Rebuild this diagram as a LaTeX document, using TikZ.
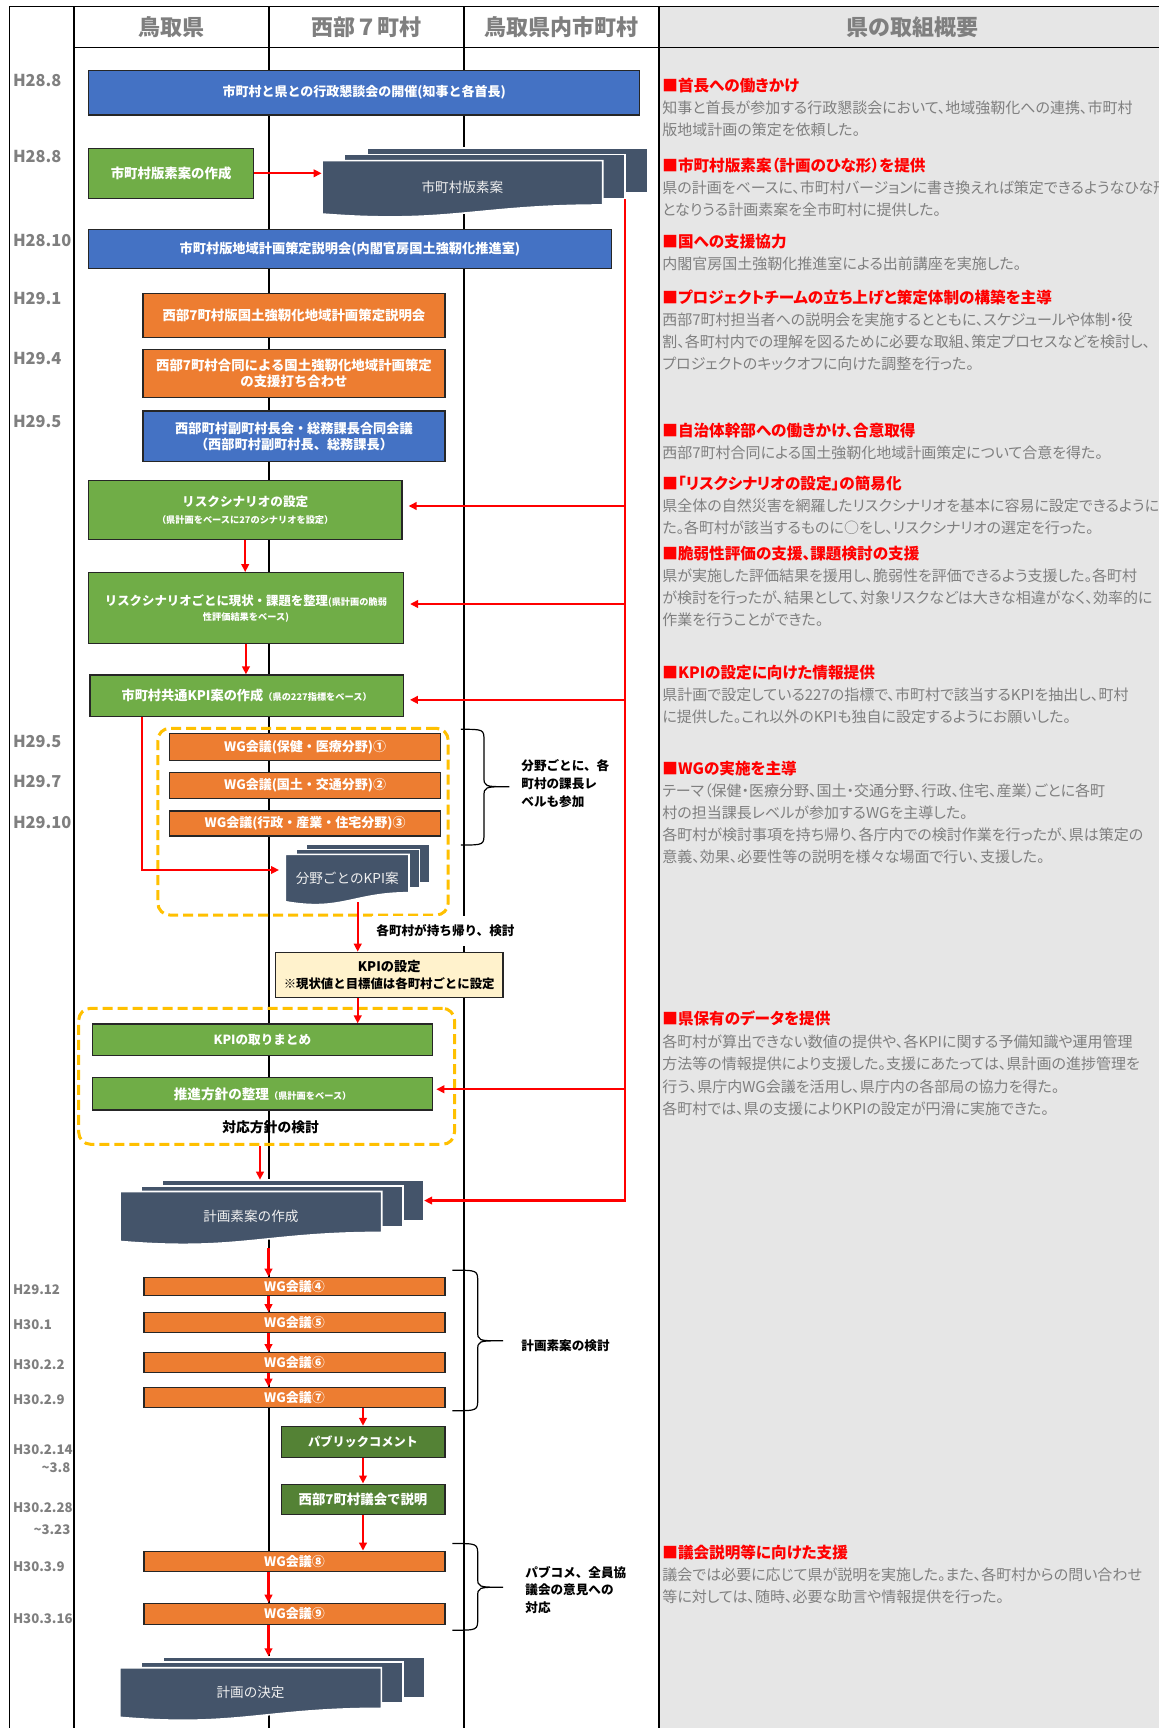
\documentclass[tikz,border=0pt]{standalone}
\usepackage{fontspec}
\setmainfont{Noto Sans CJK JP}
\newfontfamily\pfont{Noto Sans CJK JP}[RawFeature=+palt]
\usetikzlibrary{arrows.meta,fit,calc}
\definecolor{cBlue}{HTML}{4472C4}
\definecolor{cOrange}{HTML}{ED7D31}
\definecolor{cGreen}{HTML}{70AD47}
\definecolor{cDGreen}{HTML}{548235}
\definecolor{cDoc}{HTML}{44546A}
\definecolor{cYellow}{HTML}{FFF2CC}
\definecolor{cGold}{HTML}{FFC000}
\definecolor{cPanel}{HTML}{E6E6E6}
\definecolor{cGrayText}{HTML}{7F7F7F}
\newcommand\smtxt[1]{{\fontsize{4.6}{6}\selectfont #1}}
\newcommand\hd[1]{{\color{red}\bfseries\fontsize{7.8}{11}\selectfont #1}}
% box: style, name, fit points, text
\newcommand\bx[4]{%
  \node[#1, fit={#3}] (#2) {};
  \node[#1, draw=none, fill=none, inner sep=0pt] (#2t) at (#2.center) {#4};
}
\newcommand\docstack[8]{%
  \pgfmathsetmacro\dsw{#4-#2}%
  \pgfmathsetmacro\dsyl{#5+9}%
  \path[docsheet] (#2+2*#6,#3-2*#7) rectangle (#4+2*#6,#5-2*#7);
  \node[inner sep=0pt, fit={(#2+2*#6,#3-2*#7) (#4+2*#6,#5-2*#7)}] (#1b) {};
  \path[docsheet] (#2+#6,#3-#7) rectangle (#4+#6,#5-#7);
  \node[inner sep=0pt, fit={(#2+#6,#3-#7) (#4+#6,#5-#7)}] (#1m) {};
  \path[docsheet] (#2,#3) -- (#4,#3) -- (#4,#5) .. controls (#2+0.55*\dsw,#5) and (#2+0.45*\dsw,\dsyl+10) .. (#2,\dsyl) -- cycle;
  \node[inner sep=0pt, fit={(#2,#3) (#4,\dsyl)}] (#1) {};
  \node[doctext] (#1t) at (#1.center) {#8};
}
\newcommand\mybrace[6]{%
  \draw[line width=0.6pt] (#1,#4) .. controls (#2,#4) .. (#2,#4+12) -- (#2,#5-10) .. controls (#2,#5) .. (#3,#5)
    .. controls (#2,#5) .. (#2,#5+10) -- (#2,#6-12) .. controls (#2,#6) .. (#1,#6);
}
\begin{document}
\begin{tikzpicture}[x=0.5pt,y=-0.5pt,
  box/.style={draw=black!85, line width=0.6pt, inner sep=0pt, align=center, text=white,
    font=\bfseries\fontsize{6.7}{8.3}\selectfont},
  bluebox/.style={box, fill=cBlue},
  orbox/.style={box, fill=cOrange},
  grbox/.style={box, fill=cGreen},
  dgbox/.style={box, fill=cDGreen},
  ybox/.style={box, fill=cYellow, text=black},
  docsheet/.style={fill=cDoc, draw=white, line width=0.8pt},
  doctext/.style={inner sep=0pt, text=white!94!black, font=\fontsize{6.8}{8}\selectfont},
  rarrow/.style={draw=red, line width=1.1pt, -{Triangle[length=4pt,width=3.8pt]}},
  colline/.style={line width=1pt, black},
  dashbox/.style={draw=cGold, line width=1.5pt, dash pattern=on 5pt off 2.5pt, rounded corners=6pt, inner sep=0pt},
  hdr/.style={inner sep=0pt, text=cGrayText, font=\bfseries\fontsize{11}{13}\selectfont},
  datel/.style={anchor=west, inner sep=0pt, text=cGrayText, font=\bfseries\fontsize{8.2}{10}\selectfont},
  dates/.style={anchor=west, inner sep=0pt, text=cGrayText, font=\bfseries\fontsize{6.6}{9}\selectfont},
  lab/.style={anchor=west, inner sep=0pt, align=left, font=\bfseries\fontsize{6.3}{8.85}\selectfont},
  para/.style={anchor=north west, inner sep=0pt, align=left, text=cGrayText, font=\pfont\fontsize{7.5}{11}\selectfont}
]
\useasboundingbox (0,0) rectangle (1159,1728);
\clip (0,0) rectangle (1159,1728);
\fill[white] (0,0) rectangle (1159,1728);
\fill[cPanel] (659,6.7) rectangle (1159,1728);

% grid
\draw[line width=0.8pt] (9.3,1728) -- (9.3,6.7) -- (1159,6.7);
\draw[line width=0.8pt] (73.7,47.7) -- (1159,47.7);
\coordinate (c1) at (73.7,6.7);
\coordinate (c2) at (268.5,6.7);
\coordinate (c3) at (463.8,6.7);
\draw[colline] (c1) -- (73.7,1728);
\draw[colline] (c2) -- (268.5,1728);
\draw[colline] (c3) -- (463.8,1728);
\draw[line width=1.3pt] (659,6.7) -- (659,1728);

% headers
\node[hdr] (h1) at (171.1,26.7) {鳥取県};
\node[hdr] (h2) at (366.2,26.7) {西部７町村};
\node[hdr] (h3) at (561.4,26.7) {鳥取県内市町村};
\node[hdr] (h4) at (912,26.7) {県の取組概要};

% dates
\node[datel] (d1) at (12.6,81) {H28.8};
\node[datel] (d2) at (12.6,156.7) {H28.8};
\node[datel] (d3) at (12.6,240.7) {H28.10};
\node[datel] (d4) at (12.6,298.3) {H29.1};
\node[datel] (d5) at (12.6,359) {H29.4};
\node[datel] (d6) at (12.6,421.7) {H29.5};
\node[datel] (d7) at (12.6,741) {H29.5};
\node[datel] (d8) at (12.6,781.7) {H29.7};
\node[datel] (d9) at (12.6,822.7) {H29.10};
\node[dates] (d10) at (12.6,1289.4) {H29.12};
\node[dates] (d11) at (12.6,1324.4) {H30.1};
\node[dates] (d12) at (12.6,1364.2) {H30.2.2};
\node[dates] (d13) at (12.6,1399.5) {H30.2.9};
\node[dates] (d14) at (12.6,1449.5) {H30.2.14};
\node[dates, anchor=east] (d15) at (70.7,1467.7) {\textasciitilde3.8};
\node[dates] (d16) at (12.6,1507.5) {H30.2.28};
\node[dates, anchor=east] (d17) at (70.7,1529.5) {\textasciitilde3.23};
\node[dates] (d18) at (12.6,1566.6) {H30.3.9};
\node[dates] (d19) at (12.6,1618.7) {H30.3.16};

% dashed groups
\node[dashbox, fit={(157.8,728.3) (448.2,915)}] (dz1) {};
\node[dashbox, fit={(78.7,1008.3) (454.5,1144.3)}] (dz2) {};

% boxes
\bx{bluebox, font=\bfseries\fontsize{6.5}{8}\selectfont}{b1}{(88.8,70.3) (639.7,115)}{市町村と県との行政懇談会の開催(知事と各首長)}
\bx{grbox}{b2}{(88.4,148.3) (253.8,198.3)}{市町村版素案の作成}
\bx{bluebox, font=\bfseries\fontsize{6.6}{8}\selectfont}{b3}{(88.4,229.3) (611.5,268.7)}{市町村版地域計画策定説明会(内閣官房国土強靭化推進室)}
\bx{orbox}{b4}{(143,293.3) (445,337.7)}{西部7町村版国土強靭化地域計画策定説明会}
\bx{orbox, font=\bfseries\fontsize{6.7}{8}\selectfont}{b5}{(143,349.3) (445,397.7)}{西部7町村合同による国土強靭化地域計画策定\\の支援打ち合わせ}
\bx{bluebox, font=\bfseries\fontsize{6.6}{8.3}\selectfont}{b6}{(143,411) (445,461.7)}{西部町村副町村長会・総務課長合同会議\\（西部町村副町村長、総務課長）}
\bx{grbox, font=\bfseries\fontsize{6.3}{8.3}\selectfont}{b7}{(88.4,480.7) (402,539.3)}{リスクシナリオの設定\\\smtxt{（県計画をベースに27のシナリオを設定）}}
\bx{grbox, font=\bfseries\fontsize{6.2}{7.5}\selectfont}{b8}{(88.4,572.7) (403.5,643.3)}{リスクシナリオごとに現状・課題を整理\smtxt{(県計画の脆弱}\\\smtxt{性評価結果をベース)}}
\bx{grbox, font=\bfseries\fontsize{6.6}{8}\selectfont}{b9}{(90,675) (403.3,716.7)}{市町村共通KPI案の作成\smtxt{（県の227指標をベース）}}
\bx{orbox, font=\bfseries\fontsize{6.5}{8}\selectfont}{w1}{(169.6,733.3) (440.7,760.7)}{WG会議(保健・医療分野)①}
\bx{orbox, font=\bfseries\fontsize{6.5}{8}\selectfont}{w2}{(169.6,772.7) (440.7,798.3)}{WG会議(国土・交通分野)②}
\bx{orbox, font=\bfseries\fontsize{6.5}{8}\selectfont}{w3}{(169.6,811) (440.7,836)}{WG会議(行政・産業・住宅分野)③}
\bx{ybox, font=\bfseries\fontsize{6.2}{8.6}\selectfont}{kpi}{(275.3,952.3) (503,997.7)}{{\fontsize{6.6}{8}\selectfont KPIの設定}\\※現状値と目標値は各町村ごとに設定}
\bx{grbox, font=\bfseries\fontsize{6.3}{8}\selectfont}{b10}{(92.6,1024) (432.2,1055.7)}{KPIの取りまとめ}
\bx{grbox, font=\bfseries\fontsize{6.8}{8}\selectfont}{b11}{(92.6,1077.7) (432.7,1110)}{推進方針の整理\smtxt{（県計画をベース）}}
\bx{orbox, font=\bfseries\fontsize{6.5}{8}\selectfont}{w4}{(144,1277.2) (444.9,1295.3)}{WG会議④}
\bx{orbox, font=\bfseries\fontsize{6.5}{8}\selectfont}{w5}{(144,1312.8) (444.9,1332.7)}{WG会議⑤}
\bx{orbox, font=\bfseries\fontsize{6.5}{8}\selectfont}{w6}{(144,1352.7) (444.9,1372.6)}{WG会議⑥}
\bx{orbox, font=\bfseries\fontsize{6.5}{8}\selectfont}{w7}{(144,1387.3) (444.9,1407.2)}{WG会議⑦}
\bx{dgbox, font=\bfseries\fontsize{6.1}{8}\selectfont}{pc}{(281.1,1426.4) (444.9,1457.2)}{パブリックコメント}
\bx{dgbox}{gk}{(281.1,1484.1) (444.9,1514.8)}{西部7町村議会で説明}
\bx{orbox, font=\bfseries\fontsize{6.5}{8}\selectfont}{w8}{(144,1551.2) (444.9,1571.8)}{WG会議⑧}
\bx{orbox, font=\bfseries\fontsize{6.5}{8}\selectfont}{w9}{(144,1603.3) (444.9,1624.2)}{WG会議⑨}

% documents
\docstack{doc1}{322}{160.7}{602.7}{205}{22.5}{6.2}{市町村版素案}
\docstack{doc2}{285.4}{854.3}{409}{892.7}{10.5}{5}{分野ごとのKPI案}
\docstack{doc3}{120}{1191.5}{381.7}{1232.4}{21}{5.7}{計画素案の作成}
\docstack{doc4}{119.7}{1667.7}{381.4}{1708.3}{21.5}{5.5}{計画の決定}

% red connectors
\draw[rarrow] (b2.east) -- (b2.east -| doc1.west);
\coordinate (trunk) at ([xshift=-0.3pt]doc1m.south east);
\draw[rarrow] (trunk) |- (doc3b.east);
\draw[rarrow] ([yshift=2pt]trunk |- b7.east) -- ([xshift=3pt,yshift=2pt]b7.east);
\draw[rarrow] ([yshift=2pt]trunk |- b8.east) -- ([xshift=3pt,yshift=2pt]b8.east);
\draw[rarrow] ([yshift=-2pt]trunk |- b9.east) -- ([xshift=3pt,yshift=-2pt]b9.east);
\draw[rarrow] ([yshift=2.3pt]trunk |- b11.east) -- ([xshift=1.5pt,yshift=2.3pt]b11.east);
\draw[rarrow] (b7.south) -- (b7.south |- b8.north);
\draw[rarrow] (b8.south) -- (b8.south |- b9.north);
\coordinate (r9) at ($(b9.south west)+(52.3,0)$);
\draw[rarrow] (r9) |- ([xshift=-3pt,yshift=4pt]doc2.west);
\coordinate (kx) at ([xshift=5.25pt]doc2.south);
\draw[rarrow] (kx) -- (kx |- kpi.north);
\draw[rarrow] (kx |- kpi.south) -- (kx |- b10.north);
\draw[rarrow] ([xshift=-3.3pt]dz2.south) -- ([xshift=-3.3pt]dz2.south |- doc3b.north);
\draw[rarrow] ($(c2 |- doc3.south)+(0,6)$) -- (c2 |- w4.north);
\draw[rarrow] (c2 |- w4.south) -- (c2 |- w5.north);
\draw[rarrow] (c2 |- w5.south) -- (c2 |- w6.north);
\draw[rarrow] (c2 |- w6.south) -- (c2 |- w7.north);
\draw[rarrow] (pc.north |- w7.south) -- (pc.north);
\draw[rarrow] (pc.south) -- (gk.north);
\draw[rarrow] (gk.south) -- (gk.south |- w8.north);
\draw[rarrow] (c2 |- w8.south) -- (c2 |- w9.north);
\draw[rarrow] (c2 |- w9.south) -- (c2 |- doc4b.north);

% braces and labels
\mybrace{460.9}{484}{509.3}{729.3}{786.7}{845}
\mybrace{452.4}{477.7}{503}{1270.2}{1340.8}{1410.7}
\mybrace{452.4}{477.7}{503}{1543.5}{1587.2}{1630.2}
\node[lab] (L1) at (521,783.7) {分野ごとに、各\\町村の課長レ\\ベルも参加};
\node[lab] (L2) at (521,1346) {計画素案の検討};
\node[lab] (L3) at (525,1590) {パブコメ、全員協\\議会の意見への\\対応};
\node[lab, fill=white, inner xsep=2pt, inner ysep=4.5pt] (L4) at (372,930.7) {各町村が持ち帰り、検討};
\node[inner sep=0pt, font=\bfseries\fontsize{6.9}{8}\selectfont] (L5) at (270.6,1127.7) {対応方針の検討};

% right panel text
\node[para] (p1) at (662,78) {\hd{■首長への働きかけ}\\
知事と首長が参加する行政懇談会において、地域強靭化への連携、市町村\\
版地域計画の策定を依頼した。};
\node[para] (p2) at (662,157.7) {\hd{■市町村版素案（計画のひな形）を提供}\\
県の計画をベースに、市町村バージョンに書き換えれば策定できるようなひな形\\
となりうる計画素案を全市町村に提供した。};
\node[para] (p3) at (662,233.7) {\hd{■国への支援協力}\\
内閣官房国土強靭化推進室による出前講座を実施した。};
\node[para] (p4) at (662,289.7) {\hd{■プロジェクトチームの立ち上げと策定体制の構築を主導}\\
西部7町村担当者への説明会を実施するとともに、スケジュールや体制・役\\
割、各町村内での理解を図るために必要な取組、策定プロセスなどを検討し、\\
プロジェクトのキックオフに向けた調整を行った。};
\node[para] (p5) at (662,422.7) {\hd{■自治体幹部への働きかけ、合意取得}\\
西部7町村合同による国土強靭化地域計画策定について合意を得た。};
\node[para] (p6) at (662,475.3) {\hd{■「リスクシナリオの設定」の簡易化}\\
県全体の自然災害を網羅したリスクシナリオを基本に容易に設定できるようにし\\
た。各町村が該当するものに○をし、リスクシナリオの選定を行った。};
\node[para] (p7) at (662,546) {\hd{■脆弱性評価の支援、課題検討の支援}\\
県が実施した評価結果を援用し、脆弱性を評価できるよう支援した。各町村\\
が検討を行ったが、結果として、対象リスクなどは大きな相違がなく、効率的に\\
作業を行うことができた。};
\node[para] (p8) at (662,664.7) {\hd{■KPIの設定に向けた情報提供}\\
県計画で設定している227の指標で、市町村で該当するKPIを抽出し、町村\\
に提供した。これ以外のKPIも独自に設定するようにお願いした。};
\node[para] (p9) at (662,760.3) {\hd{■WGの実施を主導}\\
テーマ（保健・医療分野、国土・交通分野、行政、住宅、産業）ごとに各町\\
村の担当課長レベルが参加するWGを主導した。\\
各町村が検討事項を持ち帰り、各庁内での検討作業を行ったが、県は策定の\\
意義、効果、必要性等の説明を様々な場面で行い、支援した。};
\node[para, font=\pfont\fontsize{7.5}{11.3}\selectfont] (p10) at (662,1010.3) {\hd{■県保有のデータを提供}\\
各町村が算出できない数値の提供や、各KPIに関する予備知識や運用管理\\
方法等の情報提供により支援した。支援にあたっては、県計画の進捗管理を\\
行う、県庁内WG会議を活用し、県庁内の各部局の協力を得た。\\
各町村では、県の支援によりKPIの設定が円滑に実施できた。};
\node[para] (p11) at (662,1544.7) {\hd{■議会説明等に向けた支援}\\
議会では必要に応じて県が説明を実施した。また、各町村からの問い合わせ\\
等に対しては、随時、必要な助言や情報提供を行った。};
\end{tikzpicture}
\end{document}
